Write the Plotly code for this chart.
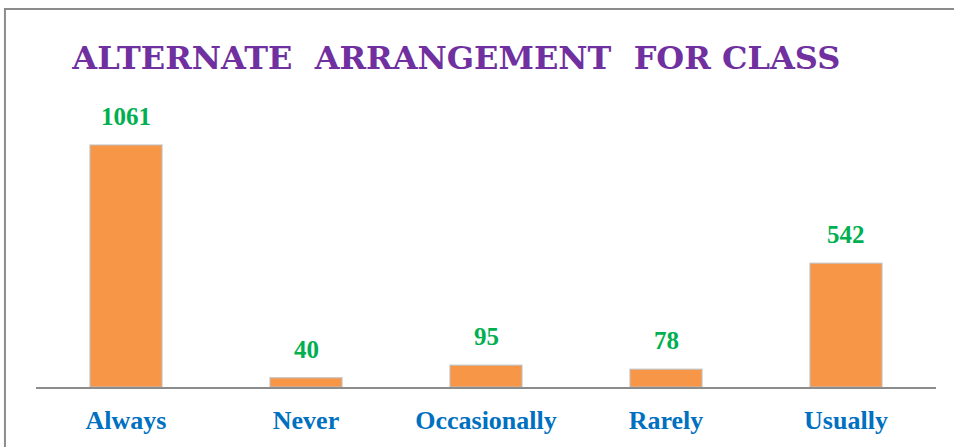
import plotly.graph_objects as go

categories = ["Always", "Never", "Occasionally", "Rarely", "Usually"]
counts = [1061, 40, 95, 78, 542]

fig = go.Figure()
fig.add_trace(go.Bar(
    x=categories, y=counts,
    marker=dict(color="#F79646", line=dict(color="rgba(190,190,190,0.7)", width=1.5)),
    width=0.4,
))

# value labels above bars
for c, v in zip(categories, counts):
    fig.add_annotation(x=c, y=v, text="<b>%d</b>" % v, showarrow=False,
                       yanchor="bottom", yshift=13,
                       font=dict(family="Liberation Serif", size=25, color="#00B050"))

# chart frame
fig.add_shape(type="rect", xref="paper", yref="paper",
              x0=-0.0345, x1=1.03, y0=-0.25, y1=1.317,
              line=dict(color="#8C8C8C", width=2), layer="below")

fig.update_layout(
    width=954, height=447,
    margin=dict(l=36, r=18, t=100, b=60),
    paper_bgcolor="white", plot_bgcolor="white",
    showlegend=False,
    title=dict(text="<b>ALTERNATE  ARRANGEMENT  FOR CLASS</b>",
               x=0.467, xanchor="center", xref="paper", y=0.87, yanchor="middle",
               font=dict(family="DejaVu Serif", size=32, color="#7030A0")),
)
fig.update_xaxes(showline=True, linecolor="#8C8C8C", linewidth=2,
                 ticks="", ticklabelstandoff=9, automargin=False,
                 tickfont=dict(family="Liberation Serif", size=26, color="#0070C0"),
                 tickprefix="<b>", ticksuffix="</b>")
fig.update_yaxes(range=[0, 1258], visible=False, showgrid=False, automargin=False)

fig.write_html("out.html", config={"displayModeBar": False},
               post_script="document.body.style.margin='0';")
